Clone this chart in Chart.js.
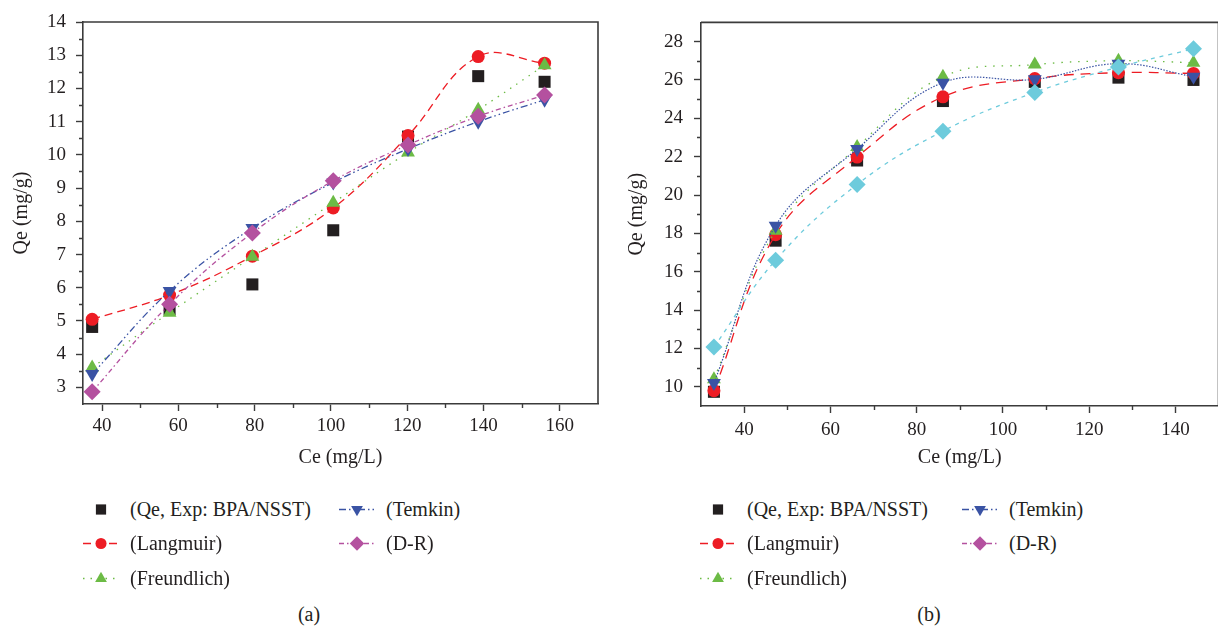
<!DOCTYPE html>
<html lang="en">
<head>
<meta charset="UTF-8">
<title>Isotherm fits BPA/NSST</title>
<script src="https://cdn.jsdelivr.net/npm/chart.js@4.4.0/dist/chart.umd.min.js"></script>
<style>
    body {
        margin: 0;
        width: 1218px;
        height: 626px;
        overflow: hidden;
        position: relative;
        background: #fff;
        color: #231f20;
        font-family: 'Liberation Serif', 'Times New Roman', serif;
    }
    .panel { position: absolute; top: 0; height: 470px; }
    #panelA { left: 0; width: 610px; }
    #panelB { left: 615px; width: 612px; }
    .item {
        position: absolute;
        height: 22px;
        display: flex;
        align-items: center;
        white-space: nowrap;
        font-size: 20px;
    }
    .item canvas { margin-right: 10px; }
    .caption {
        position: absolute;
        top: 603px;
        font-size: 20px;
        transform: translateX(-50%);
    }
</style>
</head>
<body>

<div class="panel" id="panelA"><canvas id="chartA"></canvas></div>
<div class="panel" id="panelB"><canvas id="chartB"></canvas></div>
<div id="legendA"></div>
<div id="legendB"></div>
<div class="caption" style="left:309px">(a)</div>
<div class="caption" style="left:929px">(b)</div>

<script>
// ---- panel (a) ----
const aCe         = [37.4, 57.7, 79.4, 100.6, 120.2, 138.6, 156.0];
const aExp        = [4.82, 5.35, 6.10, 7.73, 10.55, 12.37, 12.20];
const aLangmuir   = [5.05, 5.78, 6.95, 8.40, 10.58, 12.96, 12.76];
const aFreundlich = [3.60, 5.25, 6.93, 8.56, 10.07, 11.36, 12.70];
const aTemkin     = [3.40, 5.90, 7.80, 9.17, 10.18, 11.00, 11.66];
const aDR         = [2.87, 5.50, 7.65, 9.22, 10.30, 11.16, 11.80];
const aXTicks = [40, 60, 80, 100, 120, 140, 160];
const aYTicks = [3, 4, 5, 6, 7, 8, 9, 10, 11, 12, 13, 14];
const aXMinor = [50, 70, 90, 110, 130, 150];
const aYMinor = [3.5, 4.5, 5.5, 6.5, 7.5, 8.5, 9.5, 10.5, 11.5, 12.5, 13.5];

// ---- panel (b) ----
const bCe         = [33.0, 47.3, 66.2, 86.1, 107.4, 126.8, 144.2];
const bExp        = [9.74, 17.62, 21.80, 24.90, 25.90, 26.12, 26.00];
const bLangmuir   = [9.80, 17.93, 21.98, 25.12, 26.07, 26.38, 26.34];
const bFreundlich = [10.40, 18.14, 22.50, 26.17, 26.80, 27.00, 26.90];
const bTemkin     = [10.20, 18.40, 22.40, 25.86, 26.03, 26.85, 26.17];
const bDR         = [12.07, 16.60, 20.55, 23.33, 25.35, 26.67, 27.62];
const bXTicks = [40, 60, 80, 100, 120, 140];
const bYTicks = [10, 12, 14, 16, 18, 20, 22, 24, 26, 28];
const bXMinor = [50, 70, 90, 110, 130];
const bYMinor = [11, 13, 15, 17, 19, 21, 23, 25, 27];

const legendLabels = ['(Qe, Exp: BPA/NSST)', '(Langmuir)', '(Freundlich)', '(Temkin)', '(D-R)'];

const ink = '#231f20';
const axisColor = '#3b3b3b';
const tickFont = {family: "'Liberation Serif', serif", size: 19};
const titleFont = {family: "'Liberation Serif', serif", size: 20};

// marker + line style for each series
const styles = {
    exp:        {color: '#231f20', pointStyle: 'rect',     radius: 8.5, rotation: 0,   dash: []},
    langmuir:   {color: '#ed1c24', pointStyle: 'circle',   radius: 6.5, rotation: 0,   dash: [8, 5]},
    freundlich: {color: '#6cbb45', pointStyle: 'triangle', radius: 8,   rotation: 0,   dash: [1.5, 6]},
    temkin:     {color: '#3a53a4', pointStyle: 'triangle', radius: 8,   rotation: 180, dash: [7, 3, 1.5, 3, 1.5, 3]},
    dr:         {color: '#b4519f', pointStyle: 'rectRot',  radius: 8.5, rotation: 0,   dash: [5, 3, 1.5, 3]}
};

function series(label, ce, vals, st, order, showLine, extra) {
    return Object.assign({
        label: label,
        data: ce.map((x, i) => ({x: x, y: vals[i]})),
        borderColor: st.color,
        backgroundColor: st.color,
        pointBackgroundColor: st.color,
        pointBorderWidth: 0,
        pointStyle: st.pointStyle,
        pointRadius: st.radius,
        pointHoverRadius: st.radius,
        pointRotation: st.rotation,
        borderWidth: 1.3,
        borderDash: st.dash,
        showLine: showLine,
        tension: 0.4,
        order: order,
        clip: false
    }, extra || {});
}

// box lines on top/right and the small in-between ticks
const frameAndMinor = {
    id: 'frameAndMinor',
    afterDraw(chart, args, opts) {
        const {ctx, chartArea: a, scales} = chart;
        ctx.save();
        ctx.strokeStyle = axisColor;
        ctx.lineWidth = 1.6;
        ctx.beginPath();
        ctx.moveTo(a.left, a.top);
        ctx.lineTo(a.right, a.top);
        ctx.lineTo(a.right, a.bottom);
        ctx.stroke();
        ctx.lineWidth = 1.4;
        ctx.beginPath();
        (opts.xMinor || []).forEach(v => {
            const px = Math.round(scales.x.getPixelForValue(v)) + 0.5;
            ctx.moveTo(px, a.bottom);
            ctx.lineTo(px, a.bottom + 4);
        });
        (opts.yMinor || []).forEach(v => {
            const py = Math.round(scales.y.getPixelForValue(v)) + 0.5;
            ctx.moveTo(a.left - 4, py);
            ctx.lineTo(a.left, py);
        });
        ctx.stroke();
        ctx.restore();
    }
};

function makeScales(c) {
    const grid = {drawOnChartArea: false, drawTicks: true, tickLength: 7, tickWidth: 1.4, tickColor: axisColor};
    const border = {display: true, color: axisColor, width: 1.6};
    return {
        x: {
            type: 'linear', min: c.xMin, max: c.xMax,
            afterBuildTicks: s => { s.ticks = c.xTicks.map(v => ({value: v})); },
            afterFit: s => { s.height = c.xHeight; },
            ticks: {font: tickFont, color: ink, padding: c.xPad, maxRotation: 0, autoSkip: false, callback: v => String(v)},
            grid: grid, border: border,
            title: {display: true, text: 'Ce (mg/L)', font: titleFont, color: ink, padding: {top: 0, bottom: 0}}
        },
        y: {
            type: 'linear', min: c.yMin, max: c.yMax,
            afterBuildTicks: s => { s.ticks = c.yTicks.map(v => ({value: v})); },
            afterFit: s => { s.width = c.yWidth; },
            ticks: {font: tickFont, color: ink, padding: c.yPad, autoSkip: false, callback: v => String(v)},
            grid: grid, border: border,
            title: {display: true, text: 'Qe (mg/g)', font: titleFont, color: ink, padding: {top: 10, bottom: 0}}
        }
    };
}

function makeChart(id, datasets, c) {
    return new Chart(document.getElementById(id), {
        type: 'line',
        data: {datasets: datasets},
        options: {
            responsive: true,
            maintainAspectRatio: false,
            animation: false,
            devicePixelRatio: 1,
            layout: {padding: c.padding},
            scales: makeScales(c),
            plugins: {
                legend: {display: false},
                tooltip: {enabled: false},
                frameAndMinor: {xMinor: c.xMinor, yMinor: c.yMinor}
            }
        },
        plugins: [frameAndMinor]
    });
}

makeChart('chartA', [
    series(legendLabels[0], aCe, aExp, styles.exp, 5, false),
    series(legendLabels[1], aCe, aLangmuir, styles.langmuir, 4, true),
    series(legendLabels[2], aCe, aFreundlich, styles.freundlich, 3, true),
    series(legendLabels[3], aCe, aTemkin, styles.temkin, 2, true),
    series(legendLabels[4], aCe, aDR, styles.dr, 1, true)
], {
    xMin: 35, xMax: 170, yMin: 2.5, yMax: 14,
    xTicks: aXTicks, yTicks: aYTicks, xMinor: aXMinor, yMinor: aYMinor,
    xHeight: 66, yWidth: 83, xPad: 4, yPad: 10,
    padding: {left: 0, top: 22, right: 12, bottom: 0}
});

makeChart('chartB', [
    series(legendLabels[0], bCe, bExp, styles.exp, 5, false),
    series(legendLabels[1], bCe, bLangmuir, styles.langmuir, 4, true, {borderDash: [10, 7]}),
    series(legendLabels[2], bCe, bFreundlich, styles.freundlich, 3, true, {borderDash: [1.5, 7]}),
    series(legendLabels[3], bCe, bTemkin, styles.temkin, 2, true, {borderDash: [1.5, 1.5], borderWidth: 1.2}),
    series(legendLabels[4], bCe, bDR, styles.dr, 1, true,
        {borderColor: '#6dcbdc', backgroundColor: '#6dcbdc', pointBackgroundColor: '#6dcbdc', borderDash: [4, 5]})
], {
    xMin: 30, xMax: 150, yMin: 9, yMax: 29,
    xTicks: bXTicks, yTicks: bYTicks, xMinor: bXMinor, yMinor: bYMinor,
    xHeight: 64, yWidth: 86, xPad: 6, yPad: 11,
    padding: {left: 0, top: 19, right: 3, bottom: 0}
});

// legend: two columns, Exp / Langmuir / Freundlich on the left, Temkin / D-R on the right
const legendOrder = [
    {key: 'exp', col: 0, row: 0}, {key: 'langmuir', col: 0, row: 1}, {key: 'freundlich', col: 0, row: 2},
    {key: 'temkin', col: 1, row: 0}, {key: 'dr', col: 1, row: 1}
];
const keyToLabel = {exp: 0, langmuir: 1, freundlich: 2, temkin: 3, dr: 4};

function buildLegend(hostId, colX, rowY) {
    const host = document.getElementById(hostId);
    legendOrder.forEach(it => {
        const st = styles[it.key];
        const div = document.createElement('div');
        div.className = 'item';
        div.style.left = (colX[it.col] - 19) + 'px';
        div.style.top = (rowY[it.row] - 11) + 'px';
        const cv = document.createElement('canvas');
        cv.width = 38; cv.height = 22;
        const ctx = cv.getContext('2d');
        if (it.key !== 'exp') {
            ctx.strokeStyle = st.color;
            ctx.lineWidth = 1.3;
            ctx.setLineDash(st.dash);
            ctx.beginPath();
            ctx.moveTo(1, 11.5);
            ctx.lineTo(37, 11.5);
            ctx.stroke();
            ctx.setLineDash([]);
        }
        ctx.fillStyle = st.color;
        Chart.helpers.drawPoint(ctx, {
            pointStyle: st.pointStyle,
            radius: st.radius * 0.85,
            rotation: st.rotation,
            borderWidth: 0
        }, 19, 11.5);
        div.appendChild(cv);
        const span = document.createElement('span');
        span.textContent = legendLabels[keyToLabel[it.key]];
        div.appendChild(span);
        host.appendChild(div);
    });
}

buildLegend('legendA', [101, 357], [509, 543, 578]);
buildLegend('legendB', [718, 980], [509, 543, 578]);
</script>
</body>
</html>
